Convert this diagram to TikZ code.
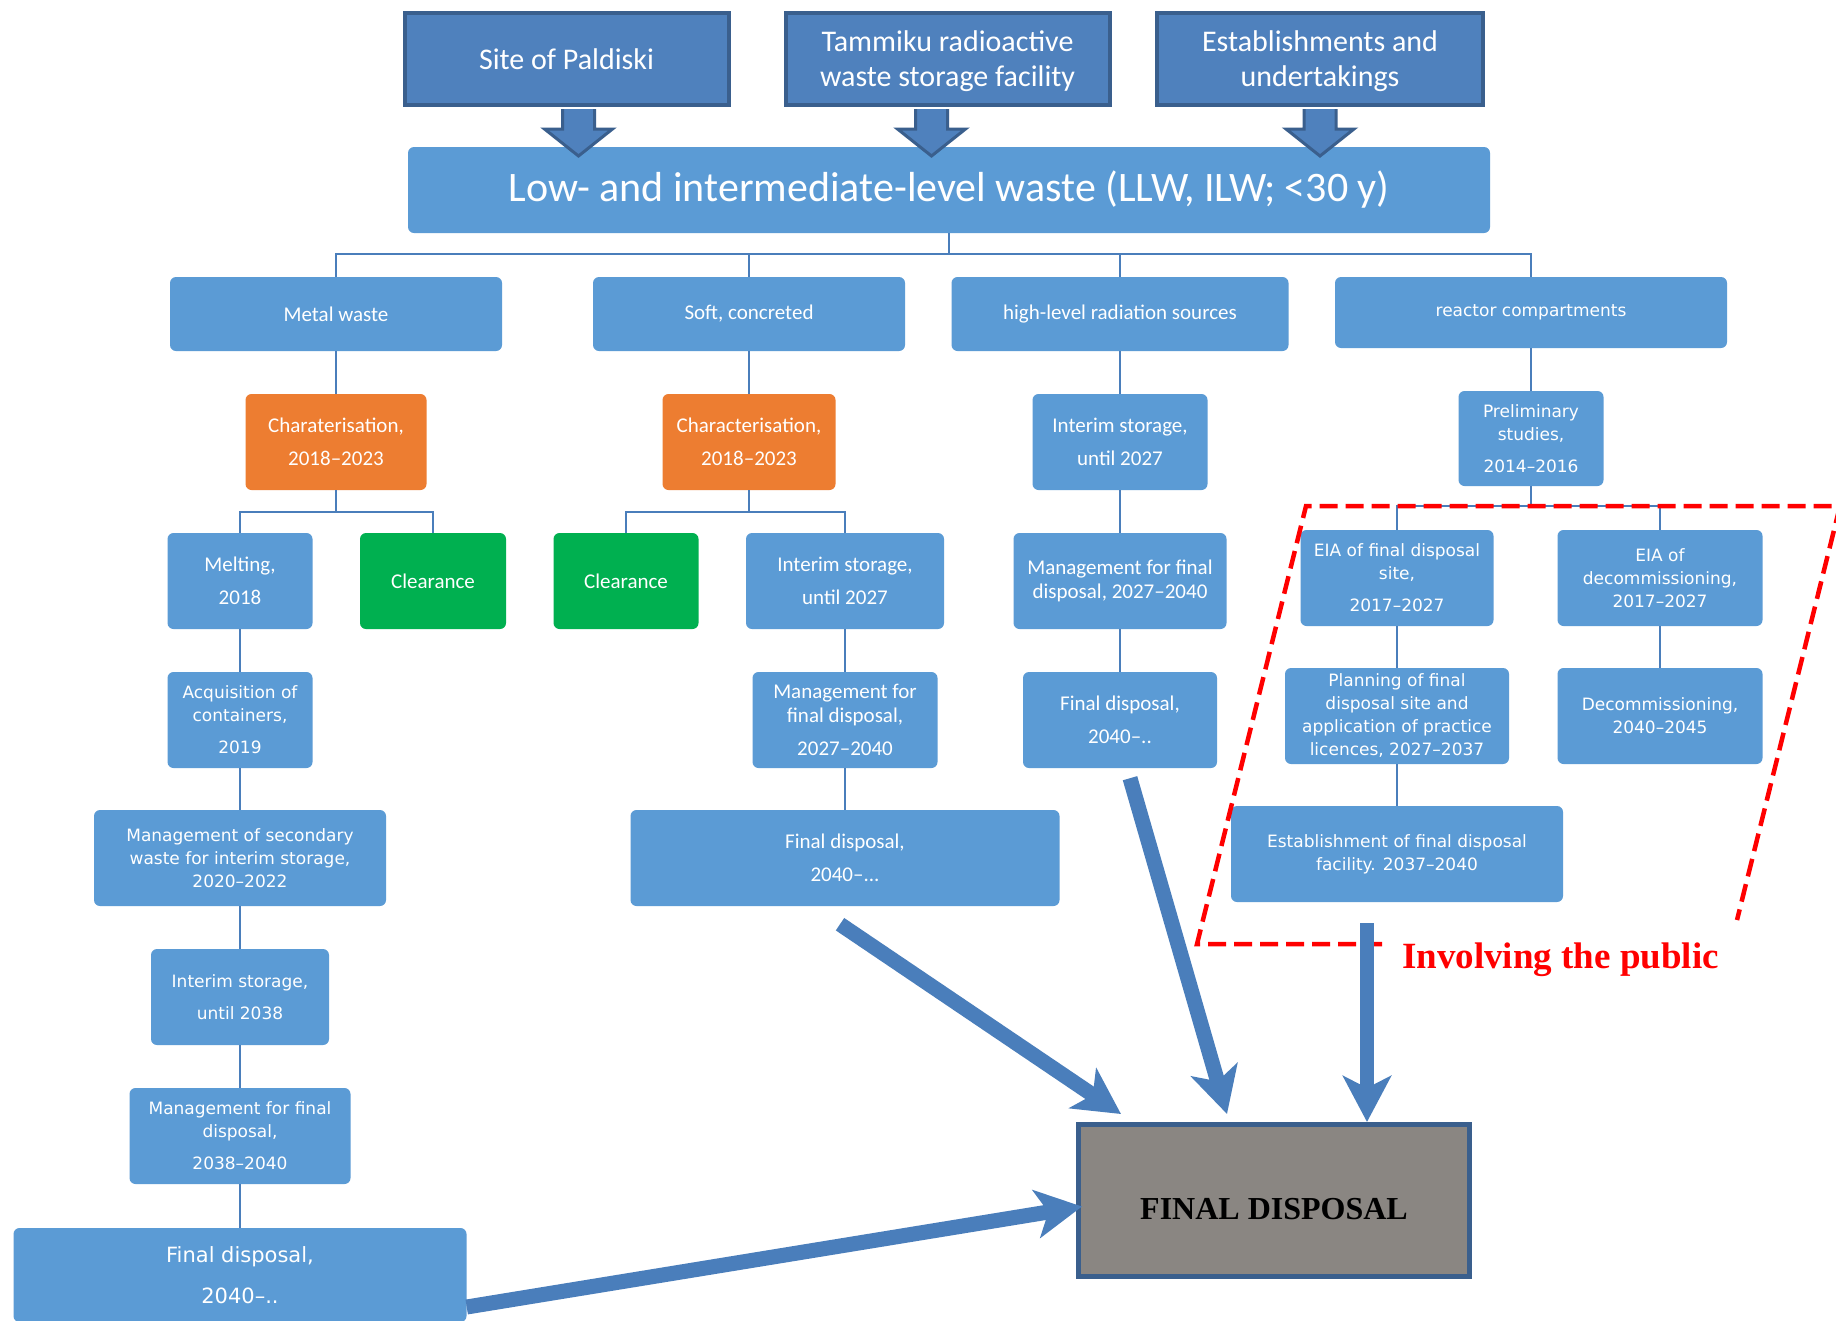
\documentclass[tikz,border=0pt]{standalone}
\usepackage{fontspec}
\setmainfont{Carlito}
\newfontfamily\verdfont{DejaVu Sans}
\newfontfamily\timesfont{Liberation Serif}
\usetikzlibrary{arrows.meta}

\definecolor{boxblue}{HTML}{5B9BD5}
\definecolor{darkfill}{HTML}{4F81BD}
\definecolor{darkline}{HTML}{3A5F8D}
\definecolor{orangebox}{HTML}{ED7D31}
\definecolor{greenbox}{HTML}{00B050}
\definecolor{linkblue}{HTML}{4A7EBB}
\definecolor{finalgray}{HTML}{8A8682}

\begin{document}
\begin{tikzpicture}
  [x=1pt,y=-1pt,
   lbox/.style={rectangle,rounded corners=6pt,fill=boxblue,text=white,align=center,
     inner sep=0pt,font=\fontsize{21}{24}\selectfont},
   vbox/.style={lbox,font=\verdfont\fontsize{17}{23}\selectfont},
   charbox/.style={lbox,fill=orangebox},
   clearbox/.style={lbox,fill=greenbox},
   topbox/.style={rectangle,draw=darkline,line width=4pt,fill=darkfill,text=white,
     align=center,inner sep=0pt,minimum width=324,minimum height=92,
     font=\fontsize{30}{35}\selectfont},
   link/.style={draw=linkblue,line width=2.5pt},
   bigarrow/.style={draw=linkblue,line width=15pt,-{Stealth[length=46pt,width=48pt,inset=12pt]}},
   droparrow/.pic={\filldraw[draw=darkline,fill=darkfill,line width=3pt,line join=miter]
     (-16,2) -- (-16,22) -- (-34,22) -- (0,49) -- (34,22) -- (16,22) -- (16,2);}]

  \fill[white] (0,0) rectangle (1836,1320);
  \path[use as bounding box] (0,0) rectangle (1836,1320);

  % sources
  \node[topbox] (site) at (566.5,59) {Site of Paldiski};
  \node[topbox,text depth=0pt] (tammiku) at (947.5,59) {Tammiku radioactive\\waste storage facility};
  \node[topbox,text depth=0pt,minimum width=326] (estab) at (1320,59) {Establishments and\\undertakings};

  \node[lbox,minimum width=1082,minimum height=86,font=\fontsize{42}{46}\selectfont]
    (llw) at (949,190) {Low- and intermediate-level waste (LLW, ILW; <30 y)};

  \pic at ([shift={(12,0)}]site.south) {droparrow};
  \pic at ([shift={(-16,0)}]tammiku.south) {droparrow};
  \pic at (estab.south) {droparrow};

  % waste streams
  \node[lbox,minimum width=332,minimum height=74] (metal) at (336,314) {Metal waste};
  \node[lbox,minimum width=312,minimum height=74] (soft) at (749,314) {Soft, concreted};
  \node[lbox,minimum width=337,minimum height=74] (high) at (1120,314) {high-level radiation sources};
  \node[vbox,minimum width=392,minimum height=71] (reactor) at (1531,312.5) {reactor compartments};

  % metal waste
  \node[charbox,minimum width=181,minimum height=96] (char1) at (336,442) {Charaterisation,\\[9pt]2018–2023};
  \node[lbox,minimum width=145,minimum height=96] (melt) at (240,581) {Melting,\\[9pt]2018};
  \node[clearbox,minimum width=146,minimum height=96] (clear1) at (433,581) {Clearance};
  \node[vbox,minimum width=145,minimum height=96] (acq) at (240,720) {Acquisition of\\containers,\\[9pt]2019};
  \node[vbox,minimum width=292,minimum height=96] (secondary) at (240,858) {Management of secondary\\waste for interim storage,\\2020–2022};
  \node[vbox,minimum width=178,minimum height=96] (interimC) at (240,997) {Interim storage,\\[9pt]until 2038};
  \node[vbox,minimum width=221,minimum height=96] (mgmtC) at (240,1136) {Management for final\\disposal,\\[9pt]2038–2040};
  \node[vbox,minimum width=453,minimum height=94,font=\verdfont\fontsize{21}{26}\selectfont]
    (fdMetal) at (240,1275) {Final disposal,\\[15pt]2040–..};

  % soft, concreted
  \node[charbox,minimum width=173,minimum height=96] (char2) at (749,442) {Characterisation,\\[9pt]2018–2023};
  \node[clearbox,minimum width=145,minimum height=96] (clear2) at (626,581) {Clearance};
  \node[lbox,minimum width=198,minimum height=96] (interimB) at (845,581) {Interim storage,\\[9pt]until 2027};
  \node[lbox,minimum width=185,minimum height=96] (mgmtB) at (845,720) {Management for\\final disposal,\\[9pt]2027–2040};
  \node[lbox,minimum width=429,minimum height=96] (fdSoft) at (845,858) {Final disposal,\\[9pt]2040–...};

  % radiation sources
  \node[lbox,minimum width=175,minimum height=96] (interimA) at (1120,442) {Interim storage,\\[9pt]until 2027};
  \node[lbox,minimum width=213,minimum height=96] (mgmtA) at (1120,581) {Management for final\\disposal, 2027–2040};
  \node[lbox,minimum width=194,minimum height=96] (fdHigh) at (1120,720) {Final disposal,\\[9pt]2040–..};

  % reactor compartments
  \node[vbox,minimum width=145,minimum height=95] (prelim) at (1531,438.5) {Preliminary\\studies,\\[9pt]2014–2016};
  \node[vbox,minimum width=193,minimum height=96] (eiaSite) at (1397,578) {EIA of final disposal\\site,\\[9pt]2017–2027};
  \node[vbox,minimum width=205,minimum height=96] (eiaDec) at (1660,578) {EIA of\\decommissioning,\\2017–2027};
  \node[vbox,minimum width=224,minimum height=96] (plan) at (1397,716) {Planning of final\\disposal site and\\application of practice\\licences, 2027–2037};
  \node[vbox,minimum width=205,minimum height=96] (decom) at (1660,716) {Decommissioning,\\2040–2045};
  \node[vbox,minimum width=332,minimum height=96] (establ) at (1397,854) {Establishment of final disposal\\facility. 2037–2040};

  \node[draw=darkline,line width=5pt,fill=finalgray,minimum width=391,minimum height=152,
    inner sep=0pt,text height=40pt,text depth=2pt,
    font=\timesfont\bfseries\fontsize{32}{38}\selectfont] (final) at (1274,1200.5) {FINAL DISPOSAL};

  % tree
\foreach \from/\to/\d in
{llw/metal/21, llw/soft/21, llw/high/21, llw/reactor/21,
 char1/melt/22, char1/clear1/22, char2/clear2/22, char2/interimB/22,
 prelim/eiaSite/20, prelim/eiaDec/20}
    \draw[link] (\from.south) -- ++(0,\d) -| (\to.north);

\foreach \from/\to in
{metal/char1, soft/char2, high/interimA, reactor/prelim,
 melt/acq, acq/secondary, secondary/interimC, interimC/mgmtC, mgmtC/fdMetal,
 interimB/mgmtB, mgmtB/fdSoft, interimA/mgmtA, mgmtA/fdHigh,
 eiaSite/plan, plan/establ, eiaDec/decom}
    \draw[link] (\from.south) -- (\to.north);

  % public involvement
  \draw[red,line width=4.5pt,dash pattern=on 18pt off 8pt]
    (1382,944) -- (1197,944) -- (1306,506) -- (1840,506) -- (1737,920);
  \node[anchor=west,text=red,inner sep=0pt,font=\timesfont\bfseries\fontsize{37}{40}\selectfont]
    (public) at (1402,960) {Involving the public};

  % to final disposal
  \draw[bigarrow] ([shift={(-5,18)}]fdSoft.south) -- ([shift={(45,-8)}]final.north west);
  \draw[bigarrow] ([shift={(10,10)}]fdHigh.south) -- ([shift={(-47,-8)}]final.north);
  \draw[bigarrow,line width=14pt] ([shift={(-30,21)}]establ.south) coordinate (e1) -- (e1 |- final.north);
  \draw[bigarrow] ([shift={(0,32)}]fdMetal.east) -- ([shift={(6,6)}]final.west);

\end{tikzpicture}
\end{document}
